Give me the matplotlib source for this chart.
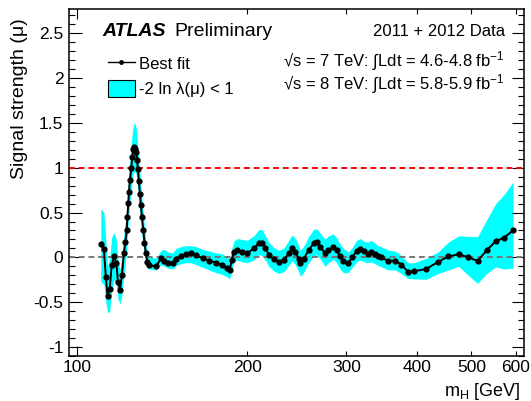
import matplotlib.pyplot as plt
from matplotlib.lines import Line2D
from matplotlib.patches import Patch
from matplotlib.ticker import MultipleLocator

plt.rcParams['font.family'] = ['Liberation Sans', 'DejaVu Sans']
plt.rcParams['mathtext.fontset'] = 'custom'
plt.rcParams['mathtext.rm'] = 'Liberation Sans'
plt.rcParams['mathtext.it'] = 'Liberation Sans:italic'
plt.rcParams['axes.unicode_minus'] = False

# best fit signal strength vs Higgs mass
mass = [110.0, 111.4, 112.3, 113.1, 114.1, 115.0, 116.1, 117.2, 118.0, 119.0,
        119.9, 120.9, 121.6, 122.3, 122.6, 123.1, 123.4, 123.9, 124.6, 125.1,
        125.6, 126.2, 126.6, 127.2, 127.5, 128.0, 128.5, 129.1, 129.6, 130.1,
        130.9, 131.5, 132.2, 133.1, 134.2,
        137.9, 140.8, 142.7, 144.6, 147.6, 149.6, 152.7, 155.8, 159.0, 162.3,
        166.7, 171.3, 176.0, 180.7, 184.5, 186.3, 187.8, 189.5, 192.1, 196.1,
        200.1,
        205.6, 209.8, 212.6, 215.6, 218.5, 223.0, 227.5, 232.3, 237.1, 240.3,
        243.6, 246.9, 248.6, 251.9, 257.1, 262.4, 265.9, 269.6, 275.1, 278.8,
        284.5, 288.4, 292.4, 296.3, 302.4, 307.4, 312.8,
        317.6, 322.4, 327.1, 331.7, 337.1, 341.7, 346.3, 355.8, 366.4, 375.5,
        385.9, 395.4, 415.7, 436.4, 455.2, 474.7, 493.8, 512.8, 532.5, 552.4,
        571.5, 592.9]

mu = [0.145, 0.09, -0.22, -0.43, -0.35, -0.09, 0.01, -0.06, -0.27, -0.36,
      -0.20, 0.045, 0.17, 0.30, 0.45, 0.61, 0.73, 0.86, 1.00, 1.12,
      1.21, 1.23, 1.21, 1.18, 1.09, 0.98, 0.85, 0.71, 0.58, 0.45,
      0.30, 0.16, 0.045, -0.05, -0.09,
      -0.10, -0.01, -0.04, -0.06, -0.06, -0.015, 0.015, 0.04, 0.045, 0.025,
      -0.01, -0.035, -0.06, -0.08, -0.12, -0.14, -0.03, 0.06, 0.08, 0.06,
      0.045,
      0.10, 0.16, 0.155, 0.10, 0.03, -0.02, -0.05, -0.03, 0.045, 0.10,
      0.06, -0.015, -0.06, -0.02, 0.08, 0.155, 0.17, 0.12, 0.045, 0.08,
      0.12, 0.08, 0.01, -0.04, -0.06, 0.0, 0.07,
      0.09, 0.07, 0.04, 0.06, 0.04, 0.02, 0.0, -0.04, -0.035, -0.08,
      -0.16, -0.155, -0.13, -0.05, 0.01, 0.035, 0.0, -0.04, 0.08, 0.18,
      0.22, 0.30]

mu_lo = [-0.27, -0.30, -0.50, -0.62, -0.60, -0.38, -0.25, -0.30, -0.46, -0.52,
         -0.42, -0.18, -0.06, 0.07, 0.22, 0.38, 0.49, 0.62, 0.75, 0.86,
         0.94, 0.96, 0.95, 0.92, 0.84, 0.74, 0.62, 0.49, 0.37, 0.25,
         0.12, 0.01, -0.07, -0.12, -0.13,
         -0.14, -0.08, -0.10, -0.12, -0.13, -0.09, -0.07, -0.06, -0.06, -0.08,
         -0.11, -0.14, -0.17, -0.19, -0.22, -0.24, -0.15, -0.05, -0.03, -0.05,
         -0.06,
         -0.03, 0.03, 0.02, -0.03, -0.10, -0.15, -0.18, -0.16, -0.09, -0.04,
         -0.08, -0.16, -0.21, -0.17, -0.06, 0.01, 0.03, -0.02, -0.10, -0.06,
         -0.02, -0.06, -0.13, -0.17, -0.17, -0.11, -0.05,
         -0.03, -0.05, -0.06, -0.05, -0.07, -0.09, -0.105, -0.14, -0.14, -0.18,
         -0.235, -0.24, -0.245, -0.18, -0.14, -0.10, -0.20, -0.29, -0.18, -0.105,
         -0.13, -0.12]

mu_hi = [0.54, 0.50, 0.18, -0.10, 0.00, 0.22, 0.28, 0.20, -0.04, -0.14,
         0.02, 0.27, 0.40, 0.53, 0.68, 0.85, 0.97, 1.11, 1.26, 1.38,
         1.47, 1.50, 1.48, 1.44, 1.35, 1.23, 1.09, 0.94, 0.80, 0.66,
         0.49, 0.33, 0.19, 0.07, 0.01,
         -0.01, 0.08, 0.09, 0.06, 0.05, 0.10, 0.12, 0.13, 0.13, 0.12,
         0.09, 0.07, 0.05, 0.04, 0.00, -0.02, 0.09, 0.18, 0.21, 0.20,
         0.19,
         0.24, 0.31, 0.31, 0.24, 0.17, 0.11, 0.08, 0.10, 0.19, 0.25,
         0.21, 0.13, 0.08, 0.12, 0.23, 0.31, 0.32, 0.27, 0.20, 0.24,
         0.26, 0.22, 0.15, 0.10, 0.06, 0.11, 0.19,
         0.21, 0.18, 0.17, 0.19, 0.16, 0.13, 0.12, 0.08, 0.07, 0.02,
         -0.06, -0.06, -0.01, 0.06, 0.17, 0.24, 0.235, 0.23, 0.42, 0.60,
         0.70, 0.84]

x_ticks = [100, 200, 300, 400, 500, 600]
y_ticks = [-1, -0.5, 0, 0.5, 1, 1.5, 2, 2.5]
y_labels = ['-1', '-0.5', '0', '0.5', '1', '1.5', '2', '2.5']

W, H = 531, 401
fig = plt.figure(figsize=(W / 100, H / 100), dpi=100)
ax = fig.add_axes([69 / W, 1 - 356 / H, 455 / W, 347 / H])

ax.fill_between(mass, mu_lo, mu_hi, color='#00ffff', lw=0, zorder=1)
ax.axhline(1, color='red', ls=(0, (3, 2)), lw=1.4, zorder=2)
ax.axhline(0, color='#777777', ls=(0, (3, 2)), lw=1.4, zorder=2)
ax.plot(mass, mu, color='black', lw=1.4, marker='o', ms=3.5, zorder=3)

ax.set_xscale('log')
ax.set_xlim(96.6, 620)
ax.set_ylim(-1.1, 2.77)
ax.set_xticks(x_ticks[:1], [str(v) for v in x_ticks[:1]])
ax.set_xticks(x_ticks[1:], [str(v) for v in x_ticks[1:]], minor=True)
ax.set_yticks(y_ticks, y_labels)
ax.yaxis.set_minor_locator(MultipleLocator(0.1))

ax.tick_params(which='both', direction='in', top=True, right=True,
               labelsize=12.5, width=0.8)
ax.tick_params(axis='y', which='major', length=9, pad=4)
ax.tick_params(axis='y', which='minor', length=4.5)
ax.tick_params(axis='x', which='major', length=7, pad=3)
ax.tick_params(axis='x', which='minor', length=3.5, pad=3)
for s in ax.spines.values():
    s.set_linewidth(1.1)

fig.text(20 / W, 1 - 18 / H, 'Signal strength (μ)', rotation=90,
         ha='center', va='top', fontsize=14)
fig.text(521 / W, 1 - 391 / H, 'm$_{\\rm H}$ [GeV]', ha='right', va='center',
         fontsize=13)

fig.text(102 / W, 1 - 32 / H, 'ATLAS', fontsize=14, fontweight='bold',
         style='italic', va='center')
fig.text(174 / W, 1 - 32 / H, 'Preliminary', fontsize=14, va='center')
fig.text(505 / W, 1 - 32 / H, '2011 + 2012 Data', fontsize=12,
         ha='right', va='center')
fig.text(505 / W, 1 - 61 / H, '√s = 7 TeV: ∫Ldt = 4.6-4.8 fb$^{-1}$',
         fontsize=12, ha='right', va='center')
fig.text(505 / W, 1 - 84 / H, '√s = 8 TeV: ∫Ldt = 5.8-5.9 fb$^{-1}$',
         fontsize=12, ha='right', va='center')

handles = [Line2D([], [], color='black', lw=1, marker='o', ms=2.5),
           Patch(facecolor='#00ffff', edgecolor='black', lw=0.8)]
fig.legend(handles, ['Best fit', '-2 ln λ(μ) < 1'], loc='upper left',
           bbox_to_anchor=(108 / W, 1 - 55 / H), frameon=False, fontsize=12,
           borderpad=0, borderaxespad=0, handlelength=1.6, handleheight=1.2,
           handletextpad=0.25, labelspacing=0.45)

fig.savefig('out.png', dpi=100)
